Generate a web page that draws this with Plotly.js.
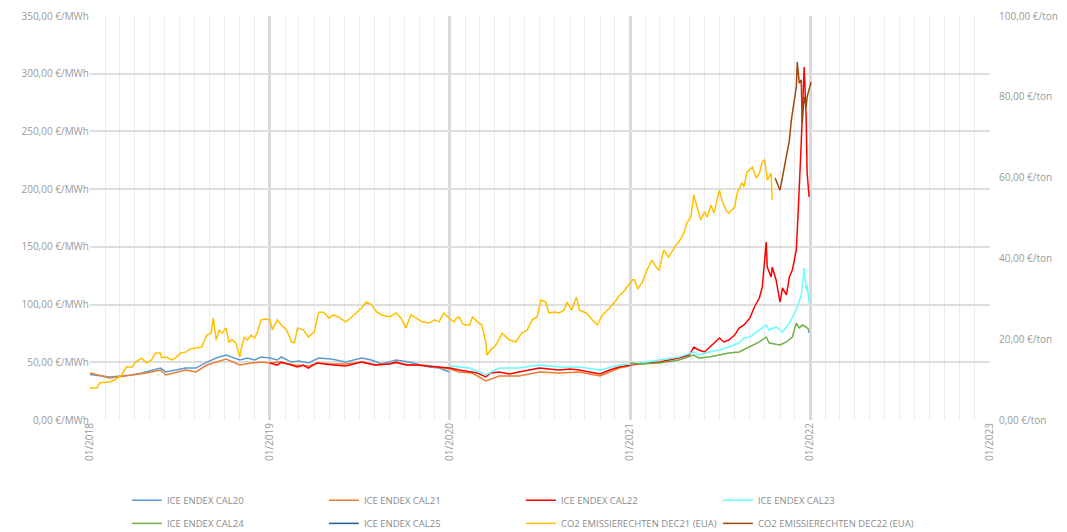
<!DOCTYPE html>
<html>
<head>
<meta charset="utf-8">
<script src="https://cdn.plot.ly/plotly-3.0.1.min.js"></script>
<style>html,body{margin:0;padding:0;background:#fff;}#chart{width:1067px;height:532px;}</style>
</head>
<body>
<div id="chart"></div>
<script>
// ---- data (€/MWh on left axis, €/ton on right axis) ----
const cal20Dates = ['2018-01-01','2018-02-10','2018-03-27','2018-04-16','2018-05-24','2018-06-04','2018-07-14','2018-08-04','2018-08-26','2018-09-14','2018-10-04','2018-11-01','2018-11-16','2018-12-01','2018-12-14','2019-01-01','2019-01-16','2019-01-24','2019-02-14','2019-03-01','2019-03-20','2019-04-10','2019-05-05','2019-06-04','2019-07-06','2019-07-26','2019-08-16','2019-09-14','2019-10-10','2019-11-06','2019-11-20','2019-12-10','2019-12-31'];
const cal20Values = [39.5,37.3,39.0,40.7,45.0,41.6,45.0,45.0,50.2,53.7,56.3,52.0,53.7,52.0,54.6,53.7,52.0,54.6,50.2,51.1,49.4,53.7,52.8,50.2,53.7,52.0,48.5,52.0,50.2,47.6,45.9,45.0,41.6];

const cal21Dates = ['2018-01-01','2018-02-10','2018-03-27','2018-04-26','2018-05-24','2018-06-04','2018-07-14','2018-08-04','2018-08-26','2018-09-14','2018-10-04','2018-11-01','2018-11-24','2018-12-14','2019-01-01','2019-01-16','2019-02-04','2019-02-20','2019-03-20','2019-04-10','2019-05-01','2019-06-04','2019-07-06','2019-08-06','2019-09-14','2019-10-14','2019-11-06','2019-12-10','2020-01-01','2020-01-20','2020-02-16','2020-03-14','2020-04-10','2020-05-20','2020-07-01','2020-08-10','2020-09-20','2020-11-01','2020-12-10','2020-12-31'];
const cal21Values = [40.7,36.4,39.0,40.7,43.3,39.0,43.3,41.6,47.6,50.2,52.8,47.6,49.4,50.2,49.4,50.2,48.5,47.6,46.8,49.4,48.5,48.5,50.2,47.6,49.4,47.6,47.6,45.9,44.2,41.6,40.7,33.8,38.1,38.1,41.6,40.7,41.6,38.1,45.0,46.8];

const cal22Dates = ['2019-01-01','2019-01-16','2019-01-24','2019-02-14','2019-02-26','2019-03-10','2019-03-20','2019-04-06','2019-04-20','2019-05-10','2019-06-04','2019-07-06','2019-08-01','2019-09-01','2019-09-14','2019-10-04','2019-10-24','2019-11-20','2019-12-10','2020-01-01','2020-01-20','2020-02-10','2020-02-26','2020-03-14','2020-03-24','2020-04-10','2020-05-01','2020-05-20','2020-06-10','2020-07-01','2020-07-20','2020-08-10','2020-09-01','2020-09-20','2020-10-10','2020-11-01','2020-11-20','2020-12-10','2021-01-01','2021-01-20','2021-03-01','2021-04-10','2021-05-01','2021-05-10','2021-05-20','2021-06-01','2021-06-10','2021-06-20','2021-07-01','2021-07-10','2021-07-20','2021-08-01','2021-08-10','2021-08-20','2021-09-01','2021-09-10','2021-09-20','2021-09-26','2021-10-04','2021-10-06','2021-10-14','2021-10-16','2021-10-24','2021-11-01','2021-11-06','2021-11-14','2021-11-20','2021-11-26','2021-12-04','2021-12-08','2021-12-12','2021-12-14','2021-12-16','2021-12-20','2021-12-24','2021-12-26','2021-12-30'];
const cal22Values = [49.4,47.6,50.2,47.6,45.9,47.6,45.0,49.4,48.5,47.6,46.8,50.2,47.6,48.5,50.2,47.6,47.6,46.8,45.9,45.0,43.3,41.6,40.7,37.3,40.7,41.6,39.8,41.6,43.3,45.0,44.2,43.3,44.2,43.3,41.6,39.8,43.3,45.9,47.6,48.5,50.2,53.7,56.3,63.2,60.6,58.9,62.4,66.7,71.0,67.6,69.3,73.6,79.7,82.3,88.4,97.9,105.7,115.2,154.2,132.5,123.9,132.5,121.3,102.2,114.4,108.3,123.9,129.9,147.3,182.0,215.0,240.0,262.5,305.8,262.5,214.0,193.2];

const cal23Dates = ['2020-01-01','2020-02-10','2020-03-14','2020-04-10','2020-05-20','2020-07-01','2020-08-10','2020-09-20','2020-11-01','2020-12-10','2021-01-01','2021-01-20','2021-03-01','2021-04-10','2021-05-10','2021-05-20','2021-06-10','2021-07-01','2021-07-20','2021-08-10','2021-08-20','2021-09-01','2021-09-20','2021-10-04','2021-10-10','2021-10-24','2021-11-06','2021-11-20','2021-12-04','2021-12-14','2021-12-20','2021-12-24','2021-12-26','2021-12-30'];
const cal23Values = [46.8,45.0,39.0,45.0,45.0,47.6,45.9,45.9,43.3,47.6,48.5,49.4,52.0,54.6,58.9,56.3,58.9,60.6,63.2,66.7,71.0,71.9,78.0,82.3,78.0,80.6,76.2,84.0,95.3,108.3,131.7,112.6,116.9,101.3];

const cal24Dates = ['2021-01-01','2021-01-20','2021-03-01','2021-04-10','2021-05-10','2021-05-20','2021-06-10','2021-07-01','2021-07-20','2021-08-10','2021-09-01','2021-09-20','2021-10-04','2021-10-10','2021-11-01','2021-11-14','2021-11-26','2021-12-04','2021-12-10','2021-12-16','2021-12-24','2021-12-30'];
const cal24Values = [49.4,48.5,49.4,52.0,56.3,53.7,54.6,56.3,58.0,58.9,63.2,67.6,71.9,66.7,65.0,67.6,71.9,84.0,79.7,82.3,80.6,78.0];

const cal25Dates = ['2021-12-28','2021-12-30'];
const cal25Values = [77.1,76.2];

const dec21Dates = ['2018-01-01','2018-01-15','2018-01-21','2018-02-10','2018-02-20','2018-03-06','2018-03-16','2018-03-27','2018-04-04','2018-04-16','2018-04-26','2018-05-06','2018-05-14','2018-05-24','2018-05-26','2018-06-04','2018-06-16','2018-06-24','2018-07-04','2018-07-14','2018-07-24','2018-08-04','2018-08-16','2018-08-26','2018-09-04','2018-09-08','2018-09-14','2018-09-20','2018-09-26','2018-10-04','2018-10-10','2018-10-16','2018-10-24','2018-11-01','2018-11-04','2018-11-10','2018-11-16','2018-11-24','2018-12-01','2018-12-06','2018-12-14','2018-12-24','2019-01-01','2019-01-06','2019-01-16','2019-01-24','2019-02-04','2019-02-14','2019-02-20','2019-02-26','2019-03-10','2019-03-20','2019-04-01','2019-04-10','2019-04-20','2019-05-01','2019-05-10','2019-05-20','2019-06-04','2019-06-16','2019-06-26','2019-07-06','2019-07-16','2019-07-26','2019-08-06','2019-08-16','2019-09-01','2019-09-14','2019-09-24','2019-10-04','2019-10-14','2019-10-24','2019-11-06','2019-11-20','2019-12-01','2019-12-10','2019-12-20','2020-01-01','2020-01-10','2020-01-14','2020-01-20','2020-01-26','2020-02-01','2020-02-10','2020-02-16','2020-02-26','2020-03-06','2020-03-14','2020-03-16','2020-03-24','2020-04-04','2020-04-16','2020-05-01','2020-05-14','2020-05-26','2020-06-06','2020-06-16','2020-06-26','2020-07-04','2020-07-14','2020-07-20','2020-08-01','2020-08-10','2020-08-20','2020-08-26','2020-09-04','2020-09-14','2020-09-20','2020-10-04','2020-10-16','2020-10-26','2020-11-06','2020-11-20','2020-12-04','2020-12-10','2020-12-16','2021-01-01','2021-01-06','2021-01-10','2021-01-16','2021-01-26','2021-02-04','2021-02-14','2021-02-24','2021-03-01','2021-03-10','2021-03-20','2021-04-01','2021-04-10','2021-04-20','2021-04-26','2021-05-04','2021-05-10','2021-05-16','2021-05-24','2021-06-01','2021-06-06','2021-06-14','2021-06-20','2021-07-01','2021-07-06','2021-07-14','2021-07-20','2021-08-01','2021-08-06','2021-08-16','2021-08-20','2021-08-26','2021-09-06','2021-09-14','2021-09-20','2021-09-26','2021-10-01','2021-10-06','2021-10-14','2021-10-16'];
const dec21Values = [7.9,7.9,9.2,9.4,9.9,11.1,13.1,13.1,14.4,15.3,14.1,14.9,16.6,16.6,15.4,15.6,14.9,15.4,16.6,16.8,17.6,17.8,18.1,21.0,21.5,25.2,19.8,22.3,21.5,22.8,19.3,19.8,19.1,15.6,17.8,20.5,19.8,21.0,20.3,21.5,24.8,25.0,24.8,22.3,24.8,23.5,22.3,19.3,19.1,22.8,22.3,20.5,21.8,26.7,26.7,25.2,26.0,25.5,24.3,25.5,26.7,27.7,29.2,28.5,26.7,26.0,25.5,26.5,25.2,22.8,26.0,25.2,24.3,24.0,24.8,24.3,26.5,25.0,24.3,25.2,25.5,24.0,23.5,23.5,25.5,24.3,23.5,19.3,16.1,17.3,18.6,21.5,19.8,19.3,21.5,22.3,24.8,25.5,29.7,29.2,26.5,26.7,26.5,27.2,29.2,27.2,30.4,27.2,26.5,24.8,23.5,26.0,27.7,29.7,30.9,31.4,33.9,34.7,34.7,32.4,34.2,37.1,39.6,37.6,37.1,42.1,40.3,42.8,44.1,46.3,48.8,50.2,55.7,53.2,49.5,51.5,50.2,53.2,51.2,56.9,54.5,52.0,51.2,52.7,56.2,58.7,57.7,61.4,62.6,59.9,61.1,63.9,64.4,59.4,61.1,54.5];

const dec22Dates = ['2021-10-22','2021-11-01','2021-11-06','2021-11-14','2021-11-20','2021-11-24','2021-12-01','2021-12-04','2021-12-06','2021-12-10','2021-12-14','2021-12-16','2021-12-20','2021-12-24','2021-12-26','2022-01-03'];
const dec22Values = [59.9,56.9,60.1,65.1,69.3,74.3,80.0,82.4,88.6,83.4,84.2,73.5,80.0,77.5,80.0,83.7];

const seriesNames = ['ICE ENDEX CAL20','ICE ENDEX CAL21','ICE ENDEX CAL22','ICE ENDEX CAL23','ICE ENDEX CAL24','ICE ENDEX CAL25','CO2 EMISSIERECHTEN DEC21 (EUA)','CO2 EMISSIERECHTEN DEC22 (EUA)'];
const seriesColors = ['#5b9bd5','#ed7d31','#ff0000','#66ffff','#70ad47','#255e91','#ffc000','#9e480e'];

const yTickVals = [0,50,100,150,200,250,300,350];
const yTickText = ['0,00 €/MWh','50,00 €/MWh','100,00 €/MWh','150,00 €/MWh','200,00 €/MWh','250,00 €/MWh','300,00 €/MWh','350,00 €/MWh'];
const y2TickVals = [0,20,40,60,80,100];
const y2TickText = ['0,00 €/ton','20,00 €/ton','40,00 €/ton','60,00 €/ton','80,00 €/ton','100,00 €/ton'];
const xTickVals = ['2018-01-01','2019-01-01','2020-01-01','2021-01-01','2022-01-01','2023-01-01'];
const xTickText = ['01/2018','01/2019','01/2020','01/2021','01/2022','01/2023'];

const xs = [cal20Dates,cal21Dates,cal22Dates,cal23Dates,cal24Dates,cal25Dates,dec21Dates,dec22Dates];
const ys = [cal20Values,cal21Values,cal22Values,cal23Values,cal24Values,cal25Values,dec21Values,dec22Values];

const traces = xs.map((x,i) => ({
  x: x, y: ys[i], name: seriesNames[i], type: 'scatter', mode: 'lines',
  yaxis: i >= 6 ? 'y2' : 'y',
  legend: i < 4 ? 'legend' : 'legend2',
  legendrank: i + 1,
  line: {color: seriesColors[i], width: 1.5}
}));
// draw order: CO2 first (behind), then CAL lines
const order = [6,7,0,1,2,3,4,5];
const plotted = order.map(i => traces[i]);

const tickFont = {family: 'Open Sans, sans-serif', size: 10, color: '#9a9a9a'};
const legendCommon = {
  orientation: 'h', x: 0.041, xanchor: 'left', yanchor: 'top',
  entrywidth: 152, entrywidthmode: 'pixels', itemwidth: 30,
  font: {family: 'Open Sans, sans-serif', size: 9.5, color: '#8c8c8c'},
  traceorder: 'normal', bgcolor: 'rgba(0,0,0,0)'
};
const layout = {
  width: 1067, height: 532,
  margin: {l: 90, r: 77, t: 16, b: 112, autoexpand: false},
  paper_bgcolor: '#ffffff', plot_bgcolor: '#ffffff',
  showlegend: true,
  xaxis: {
    type: 'date', range: ['2018-01-01','2023-01-01'],
    tickmode: 'array', tickvals: xTickVals, ticktext: xTickText,
    tickangle: -90, tickfont: tickFont, automargin: false,
    showgrid: true, gridcolor: '#d9d9d9', gridwidth: 3,
    zeroline: false, showline: false, ticks: '',
    minor: {dtick: 'M1', tick0: '2018-01-01', showgrid: true, gridcolor: '#ececec', gridwidth: 1, ticks: ''}
  },
  yaxis: {
    range: [0,350], tickmode: 'array', tickvals: yTickVals, ticktext: yTickText,
    tickfont: tickFont, showgrid: true, gridcolor: '#dedede', gridwidth: 2, automargin: false,
    zeroline: false, showline: false, ticks: ''
  },
  yaxis2: {
    range: [0,100], overlaying: 'y', side: 'right', tickmode: 'array',
    tickvals: y2TickVals, ticktext: y2TickText, tickfont: tickFont, automargin: false,
    showgrid: false, zeroline: false, showline: false, ticks: '', ticklabelstandoff: 8
  },
  legend: Object.assign({}, legendCommon, {y: -0.163}),
  legend2: Object.assign({}, legendCommon, {y: -0.22})
};
Plotly.newPlot('chart', plotted, layout, {displayModeBar: false, staticPlot: true});
</script>
</body>
</html>
